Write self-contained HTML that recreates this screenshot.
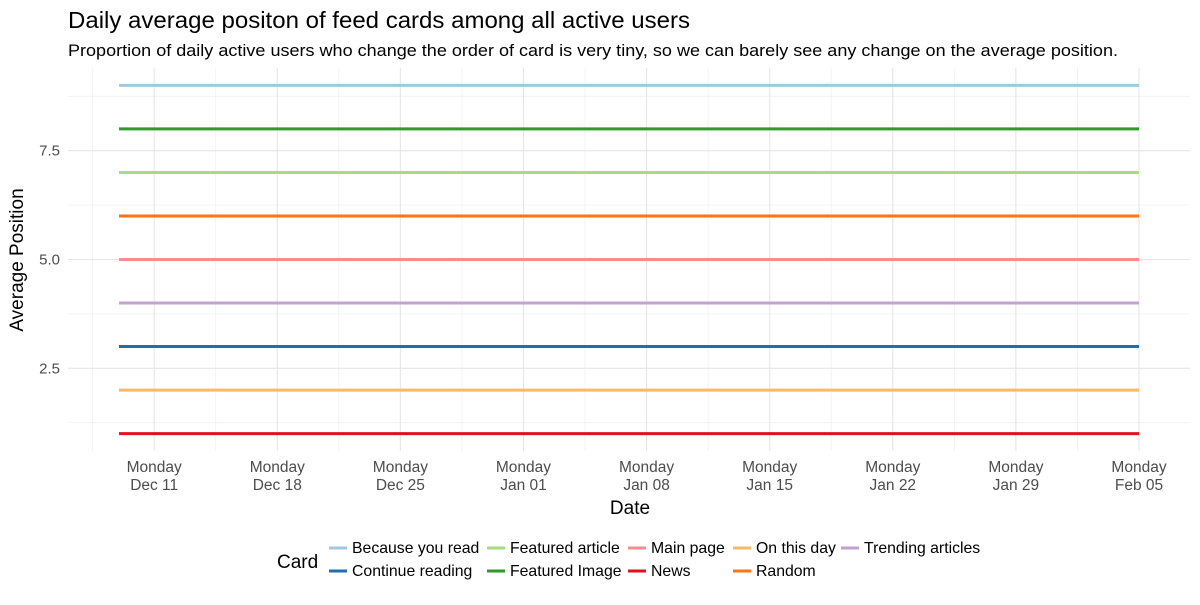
<!DOCTYPE html>
<html><head><meta charset="utf-8"><style>
body{margin:0;background:#fff;font-family:"Liberation Sans",Arial,sans-serif}
svg text{font-family:"Liberation Sans",Arial,sans-serif}
</style></head><body>
<svg id="chart" width="1200" height="600" xmlns="http://www.w3.org/2000/svg">
<text x="68" y="28" font-size="23" textLength="622" lengthAdjust="spacingAndGlyphs" fill="#000">Daily average positon of feed cards among all active users</text>
<text x="68" y="56" font-size="17" textLength="1050" lengthAdjust="spacingAndGlyphs" fill="#000">Proportion of daily active users who change the order of card is very tiny, so we can barely see any change on the average position.</text>
<g id="grid"></g><g id="lines"></g><g id="axes"></g>
<text x="630" y="514" font-size="19" text-anchor="middle">Date</text>
<text transform="translate(23,260) rotate(-90)" font-size="19" text-anchor="middle">Average Position</text>
<g id="legend"></g>
</svg>
<script>
const cards=["Because you read","Continue reading","Featured article","Featured Image","Main page","News","On this day","Random","Trending articles"];
const positions=[9,3,7,8,5,1,2,6,4];
const colors=["#9ECAE1","#1F6FB0","#A8DC80","#2E9A2A","#FB8C8C","#E0101C","#FDB865","#FF7410","#C2A2D2"];
const startDay=-2, endDay=56; // days relative to Dec 11
const xTickDays=[0,7,14,21,28,35,42,49,56];
const xTickLabels=[["Monday","Dec 11"],["Monday","Dec 18"],["Monday","Dec 25"],["Monday","Jan 01"],["Monday","Jan 08"],["Monday","Jan 15"],["Monday","Jan 22"],["Monday","Jan 29"],["Monday","Feb 05"]];
const yTicks=[2.5,5.0,7.5];
const NS="http://www.w3.org/2000/svg";
const px0=68,px1=1190,py0=68,py1=451;
const dmin=startDay-0.05*(endDay-startDay),dmax=endDay+0.05*(endDay-startDay);
const vmin=0.6,vmax=9.4;
const X=d=>px0+(d-dmin)/(dmax-dmin)*(px1-px0);
const Y=v=>py1-(v-vmin)/(vmax-vmin)*(py1-py0);
function mk(t,a,p){const e=document.createElementNS(NS,t);for(const k in a)e.setAttribute(k,a[k]);p.appendChild(e);return e;}
const grid=document.getElementById('grid'),axes=document.getElementById('axes'),lines=document.getElementById('lines'),leg=document.getElementById('legend');
[1.25,3.75,6.25,8.75].forEach(v=>{const l=mk('line',{x1:px0,x2:px1,y1:Y(v),y2:Y(v),stroke:'#f0f0f0','stroke-width':0.8},grid);

});
for(let d=-3.5;d<60;d+=7){if(X(d)<px0||X(d)>px1)continue;const l=mk('line',{x1:X(d),x2:X(d),y1:py0,y2:py1,stroke:'#f0f0f0','stroke-width':0.8},grid);

}
yTicks.forEach(v=>{const l=mk('line',{x1:px0,x2:px1,y1:Y(v),y2:Y(v),stroke:'#e6e6e6','stroke-width':1.1},grid);


const t=mk('text',{x:60,y:Y(v)+5,'font-size':15,fill:'#4d4d4d','text-anchor':'end'},axes);t.textContent=v.toFixed(1);

});
xTickDays.forEach((d,i)=>{const l=mk('line',{x1:X(d),x2:X(d),y1:py0,y2:py1,stroke:'#e6e6e6','stroke-width':1.1},grid);


const t=mk('text',{x:X(d),y:472,'font-size':15.5,fill:'#4d4d4d','text-anchor':'middle'},axes);


mk('tspan',{x:X(d),dy:0},t).textContent=xTickLabels[i][0];
mk('tspan',{x:X(d),dy:18},t).textContent=xTickLabels[i][1];});
cards.forEach((c,i)=>{const l=mk('line',{x1:X(startDay),x2:X(endDay),y1:Y(positions[i]),y2:Y(positions[i]),stroke:colors[i],'stroke-width':3},lines);

});
const lt=mk('text',{x:277,y:568,'font-size':19},leg);lt.textContent='Card';


const colX=[329,487,628,733,841];
cards.forEach((c,i)=>{const col=Math.floor(i/2),row=i%2;const x=colX[col],y=548+row*23;
const g=mk('g',{},leg);


mk('line',{x1:x,x2:x+18,y1:y,y2:y,stroke:colors[i],'stroke-width':3},g);
const t=mk('text',{x:x+23,y:y+5,'font-size':15.8},g);t.textContent=c;});
</script>
</body></html>
